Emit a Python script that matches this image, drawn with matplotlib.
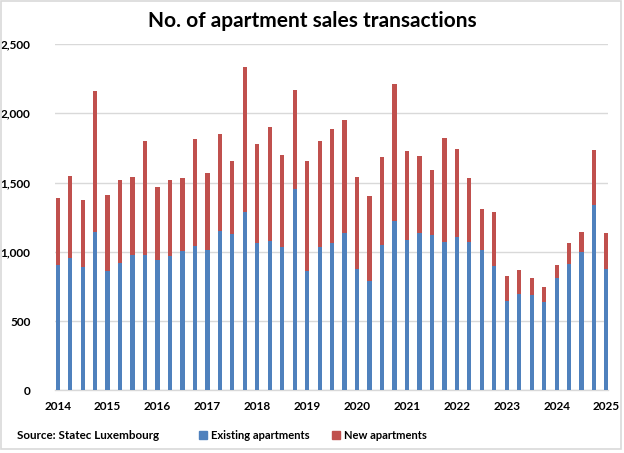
import numpy as np
import matplotlib
matplotlib.use("Agg")
import matplotlib.pyplot as plt
from matplotlib.patches import Rectangle, Patch

# === Data (quarterly, 2014 Q1 - 2025 Q1) ===
years = [str(y) for y in range(2014, 2026)]
total = [1391, 1549, 1376, 2158,
         1410, 1518, 1540, 1797,
         1468, 1516, 1535, 1814,
         1566, 1848, 1653, 2334,
         1778, 1901, 1696, 2165,
         1658, 1797, 1889, 1951,
         1540, 1400, 1687, 2209,
         1727, 1694, 1588, 1821,
         1740, 1535, 1309, 1290,
         823, 869, 808, 746,
         905, 1066, 1140, 1735,
         1133]
existing = [902, 953, 888, 1140,
            859, 917, 974, 979,
            938, 972, 1006, 1039,
            1015, 1148, 1126, 1290,
            1066, 1075, 1032, 1451,
            859, 1032, 1066, 1133,
            873, 787, 1049, 1222,
            1083, 1133, 1119, 1068,
            1104, 1068, 1013, 900,
            647, 693, 686, 640,
            808, 909, 996, 1338,
            878]

existing = np.array(existing)
new = np.array(total) - existing

blue = '#4F81BD'
red = '#C0504D'
font = 'Lato'

plt.rcParams['font.family'] = font

fig = plt.figure(figsize=(6.24, 4.53), dpi=100)
ax = fig.add_axes([0.0889, 0.1384, 0.8859, 0.7645])

x = np.arange(len(existing))
ax.bar(x, existing, width=0.34, color=blue, zorder=3)
ax.bar(x, new, bottom=existing, width=0.34, color=red, zorder=3)

ax.set_xlim(-0.18, len(x) - 1 + 0.14)
ax.set_ylim(0, 2500)
ax.set_yticks(np.arange(0, 2501, 500))
ax.yaxis.set_major_formatter(matplotlib.ticker.FuncFormatter(lambda v, p: f'{int(v):,}'))
ax.set_xticks(x[::4])
ax.set_xticklabels(years)

ax.grid(axis='y', color='#D9D9D9', linewidth=1, zorder=0)
for s in ['top', 'right', 'left']:
    ax.spines[s].set_visible(False)
ax.spines['bottom'].set_color('#D9D9D9')
ax.spines['bottom'].set_linewidth(1)
ax.tick_params(length=0, labelsize=8.5)
ax.tick_params(axis='y', pad=18)
ax.tick_params(axis='x', pad=8)
for lbl in ax.get_xticklabels() + ax.get_yticklabels():
    lbl.set_fontweight('bold')

fig.text(0.5, 0.953, 'No. of apartment sales transactions', ha='center', va='center',
         fontsize=15, fontweight='bold')
fig.text(0.027, 0.039, 'Source: Statec Luxembourg', ha='left', va='center',
         fontsize=8.4, fontweight='bold')

handles = [Patch(color=blue, label='Existing apartments'),
           Patch(color=red, label='New apartments')]
fig.legend(handles=handles, loc='center left', bbox_to_anchor=(0.303, 0.039), ncol=2,
           frameon=False, prop={'family': font, 'weight': 'bold', 'size': 8},
           handlelength=0.7, handleheight=0.7, handletextpad=0.4, columnspacing=2.0)

fig.patches.append(Rectangle((0.001, 0.009), 0.994, 0.989, transform=fig.transFigure,
                             fill=False, edgecolor='#D9D9D9', linewidth=1.2))

fig.savefig('out.png', dpi=100)
